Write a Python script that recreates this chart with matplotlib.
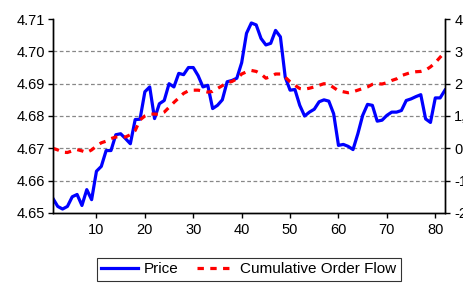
import matplotlib.pyplot as plt
from matplotlib.ticker import FuncFormatter

plt.rcParams['font.family'] = ['Liberation Sans', 'DejaVu Sans']

# observations 1..82
price = [4.6545, 4.6520, 4.6512, 4.6520, 4.6550, 4.6557, 4.6523, 4.6572, 4.6541, 4.6629,
         4.6644, 4.6693, 4.6693, 4.6742, 4.6745, 4.6730, 4.6714, 4.6789, 4.6790, 4.6875,
         4.6890, 4.6792, 4.6838, 4.6848, 4.6900, 4.6890, 4.6932, 4.6928, 4.6950, 4.6950,
         4.6925, 4.6890, 4.6895, 4.6823, 4.6833, 4.6850, 4.6906, 4.6910, 4.6917, 4.6965,
         4.7056, 4.7088, 4.7082, 4.7040, 4.7020, 4.7025, 4.7065, 4.7045, 4.6920, 4.6880,
         4.6882, 4.6833, 4.6800, 4.6812, 4.6821, 4.6844, 4.6850, 4.6846, 4.6807, 4.6709,
         4.6712, 4.6706, 4.6696, 4.6745, 4.6802, 4.6836, 4.6833, 4.6784, 4.6787, 4.6802,
         4.6812, 4.6812, 4.6817, 4.6848, 4.6853, 4.6860, 4.6866, 4.6791, 4.6780, 4.6856,
         4.6856, 4.6880]

flow = [0.00, -0.05, -0.12, -0.13, -0.08, -0.04, -0.08, -0.13, -0.05, 0.07,
        0.17, 0.22, 0.30, 0.35, 0.36, 0.35, 0.42, 0.55, 0.88, 1.00,
        1.06, 1.06, 1.05, 1.12, 1.27, 1.42, 1.56, 1.70, 1.78, 1.80,
        1.80, 1.77, 1.74, 1.76, 1.85, 1.94, 2.03, 2.07, 2.15, 2.30,
        2.37, 2.41, 2.38, 2.30, 2.17, 2.22, 2.30, 2.30, 2.20, 2.06,
        1.95, 1.85, 1.83, 1.86, 1.90, 1.95, 2.00, 1.98, 1.88, 1.78,
        1.75, 1.72, 1.75, 1.80, 1.85, 1.90, 1.98, 2.00, 1.99, 2.03,
        2.10, 2.15, 2.25, 2.30, 2.35, 2.37, 2.38, 2.42, 2.52, 2.65,
        2.82, 2.98]

t = list(range(1, len(price) + 1))

fig = plt.figure(figsize=(4.64, 2.85), dpi=100)
ax = fig.add_axes([0.114, 0.253, 0.845, 0.68])
ax2 = ax.twinx()

ax.set_yticks([4.65, 4.66, 4.67, 4.68, 4.69, 4.70, 4.71])
ax.set_ylim(4.65, 4.71)
ax.yaxis.set_major_formatter(FuncFormatter(lambda v, p: f"{v:.2f}"))
for y in [4.66, 4.67, 4.68, 4.69, 4.70]:
    ax.axhline(y, color='#888888', lw=0.9, ls=(0, (3, 2)), zorder=0)

l1, = ax.plot(t, price, color='#0000ff', lw=2.3, label='Price')
l2, = ax2.plot(t, flow, color='#ff0000', lw=2.3, ls=(0, (2, 2)), label='Cumulative Order Flow')

ax.set_xlim(1, 82)
ax.set_xticks([10, 20, 30, 40, 50, 60, 70, 80])
ax2.set_ylim(-2, 4)
ax2.set_yticks([-2, -1, 0, 1, 2, 3, 4])
ax2.yaxis.set_major_formatter(FuncFormatter(lambda v, p: f"{v*1000:,.0f}"))

for a in (ax, ax2):
    a.spines['top'].set_visible(False)
    for s in a.spines.values():
        s.set_linewidth(1.0)
    a.tick_params(labelsize=10.5, direction='out', length=3.6, width=1, colors='#000000')
ax.tick_params(axis='y', pad=2)
ax2.tick_params(axis='y', pad=3)

leg = fig.legend([l1, l2], ['Price', 'Cumulative Order Flow'], loc='center',
                 bbox_to_anchor=(0.536, 0.055), ncol=2, fontsize=11, frameon=True,
                 fancybox=False, edgecolor='#000000', handlelength=2.4, columnspacing=1.2,
                 borderpad=0.3, handletextpad=0.4)
leg.get_frame().set_linewidth(0.8)

fig.savefig('out.png', dpi=100)
